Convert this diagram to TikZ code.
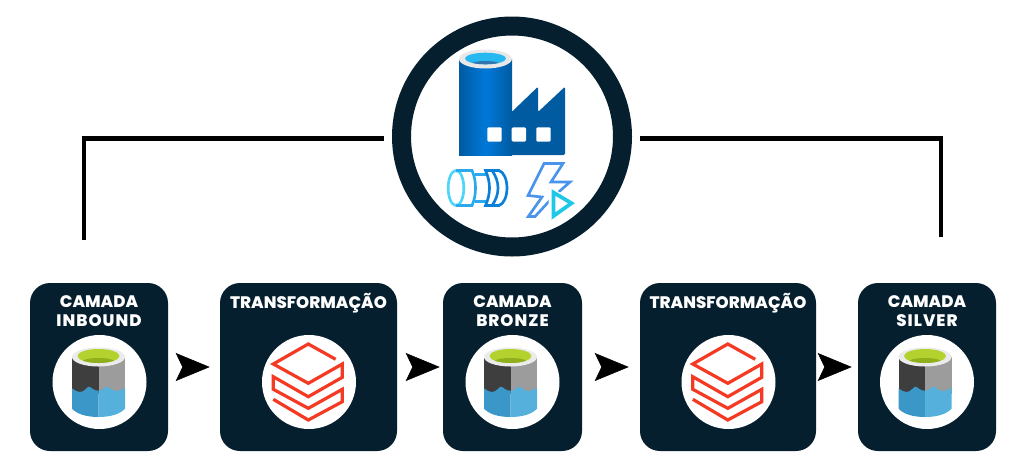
\documentclass[tikz,border=0pt]{standalone}
\usepackage{fontspec}
\usepackage{tikz}
\usetikzlibrary{arrows.meta}
\newfontfamily\labelfont{Poppins}[BoldFont={Poppins ExtraBold}]
\definecolor{darknavy}{HTML}{051F2E}
\definecolor{lakegreen}{HTML}{B4D22E}
\definecolor{lakegreendark}{HTML}{8FB01C}
\definecolor{lakegrey}{HTML}{9C9C9C}
\definecolor{lakedark}{HTML}{3E3E3E}
\definecolor{lakeblue}{HTML}{3B97C8}
\definecolor{lakelight}{HTML}{55B0DC}
\definecolor{brickred}{HTML}{F53A24}
\definecolor{factoryblue}{HTML}{005BA1}
\definecolor{pipelight}{HTML}{50D4FA}
\definecolor{pipemid}{HTML}{2CA8EC}
\definecolor{pipedark}{HTML}{0A80D8}
\definecolor{boltblue}{HTML}{4A94EC}
\definecolor{playcyan}{HTML}{20C8E8}
\tikzset{
  layerbox/.style={fill=darknavy,rounded corners=15pt,inner sep=0pt,minimum height=126pt},
  logo/.style={circle,fill=white,inner sep=0pt,minimum size=70.5pt},
  layerlabel/.style={text=white,align=center,inner sep=0pt,font=\labelfont\bfseries\fontsize{12.5}{14.25}\selectfont},
  busline/.style={black,line width=3.6pt},
  flow/.style={black,line width=0.4pt,-{Stealth[length=25.5pt,width=21pt,inset=5pt]}},
  pipeline/.style={line width=2pt},
}
\newcommand{\wideline}[1]{{\addfontfeature{LetterSpace=6}#1}}
\newcommand{\drawlake}[1]{
  \begin{scope}[shift={#1}]
  \fill[lakedark] (-26.5,-25) rectangle (0,12);
  \fill[lakegrey] (0,-25) rectangle (26.5,12);
  \fill[lakeblue] (-26.5,6.3) .. controls (-24,8.5) and (-21,10) .. (-18.5,10) .. controls (-14,10) and (-12,5) .. (-9.5,4.7) .. controls (-7,5) and (-5,9) .. (0,8.7) -- (0,35) .. controls (-12,35) and (-22,32) .. (-26.5,26.5) -- cycle;
  \fill[lakelight] (0,8.7) .. controls (3,9.5) and (6,5) .. (8.8,4.7) .. controls (11,5) and (13,9) .. (18,9) .. controls (22,9) and (24,7) .. (26.5,5.7) -- (26.5,26.5) .. controls (22,32) and (12,35) .. (0,35) -- cycle;
  \fill[white!92!black] (0,-25) ellipse [x radius=26.5,y radius=9.5];
  \fill[lakegreen] (0,-26) ellipse [x radius=21,y radius=7];
  \begin{scope}
  \clip (0,-26) ellipse [x radius=21,y radius=7];
  \fill[lakegreendark] (0,-20) ellipse [x radius=17,y radius=4];
  \end{scope}
  \end{scope}
}
\newcommand{\drawbricks}[1]{
  \begin{scope}[shift={#1}]
  \draw[brickred,line width=2.4pt,miter limit=4]
    (26.7,-22.7) -- (-0.7,-38) -- (-35.7,-18) -- (-0.7,1.3) -- (33.3,-18) -- (33.3,-4.7)
    -- (-0.7,14.7) -- (-35.7,-5.3) -- (-35.7,7.3) -- (-0.7,26.3) -- (33.3,7.3) -- (33.3,19.7)
    -- (-0.7,38) -- (-35.7,17.3);
  \end{scope}
}
\begin{document}
\begin{tikzpicture}[x=0.75pt,y=-0.75pt]
      \useasboundingbox (0,0) rectangle (1024,472);

      % layers
      \node (inbound) [layerbox,minimum width=103.5pt] at (99,367) {};
      \node (transfA) [layerbox,minimum width=132.75pt] at (308.5,367) {};
      \node (bronze) [layerbox,minimum width=104.25pt] at (512.5,367) {};
      \node (transfB) [layerbox,minimum width=132pt] at (728,367) {};
      \node (silver) [layerbox,minimum width=103.5pt] at (927,367) {};

      \node (inboundtext) [layerlabel] at (99,311) {CAMADA\\\wideline{INBOUND}};
      \node (transfAtext) [layerlabel,anchor=base] at (308.5,308) {TRANSFORMAÇÃO};
      \node (bronzetext) [layerlabel] at (512.5,311) {CAMADA\\\wideline{BRONZE}};
      \node (transfBtext) [layerlabel,anchor=base] at (728,308) {TRANSFORMAÇÃO};
      \node (silvertext) [layerlabel] at (927,311) {CAMADA\\\wideline{SILVER}};

      \node (inboundlogo) [logo] at (99.5,382) {};
      \node (transfAlogo) [logo] at (309,382) {};
      \node (bronzelogo) [logo] at (512.5,382) {};
      \node (transfBlogo) [logo] at (728.5,382) {};
      \node (silverlogo) [logo] at (927,382) {};

      \drawlake{(98.5,382)}
      \drawbricks{(309,382)}
      \drawlake{(510.5,382)}
      \drawbricks{(728.5,382)}
      \drawlake{(925,382)}

      % arrows between the layers
      \foreach \a/\b/\s/\e in {inbound/transfA/14/7.5,transfA/bronze/14.75/2.25,bronze/transfB/17.75/8.25,transfB/silver/9.5/4.5}
        \draw[flow,shorten <=\s pt,shorten >=\e pt] (\a.east) -- (\b.west);

      % factory
      \node (factory) [circle,draw=darknavy,line width=14.25pt,inner sep=0pt,minimum size=165.75pt] at (512,136.5) {};
      \coordinate (inboundup) at (84,240);
      \coordinate (silverup) at (941,237);
      \draw[busline,shorten >=6pt] (inboundup) |- ([yshift=-1.5pt]factory.west);
      \draw[busline,shorten >=6pt] (silverup) |- ([yshift=-1.5pt]factory.east);

      \fill[factoryblue,rounded corners=1pt] (500,155) -- (565,155) -- (565,86.7) -- (538,112) -- (538,86.7) -- (511.7,112) -- (500,112) -- cycle;
      \shade[left color=factoryblue,right color=factoryblue,middle color=blue!45!cyan!60!factoryblue] (459,59) rectangle (512,155);
      \fill[white!91!black] (485.4,59) ellipse [x radius=26.5,y radius=9.5];
      \fill[cyan!85!white] (485.5,58.5) ellipse [x radius=20.5,y radius=5.8];
      \begin{scope}
      \clip (485.5,58.5) ellipse [x radius=20.5,y radius=5.8];
      \fill[cyan!60!blue!80!black] (485.5,65) ellipse [x radius=16,y radius=4];
      \end{scope}
      \foreach \x in {487.3,511.7,536.3}
        \fill[white,rounded corners=1pt] (\x,127.3) rectangle ++(14.4,14.4);

      % pipe
      \draw[pipelight,pipeline] (456,188) ellipse [x radius=7.8,y radius=17.5];
      \draw[pipemid,pipeline] (456,170.5) -- (472,170.5) .. controls (474.5,176) and (475.5,182) .. (475.5,188) .. controls (475.5,194) and (474.5,200) .. (472,205.5) -- (456,205.5);
      \draw[pipemid,pipeline] (475,174.5) -- (487,174.5) (475,201.5) -- (487,201.5);
      \draw[pipedark,pipeline] (485.5,170.5) -- (499,170.5) .. controls (504,172) and (507,180) .. (507,188) .. controls (507,196) and (504,204) .. (499,205.5) -- (485.5,205.5) .. controls (488,200) and (489.5,194) .. (489.5,188) .. controls (489.5,182) and (488,176) .. (485.5,170.5) -- cycle;
      \draw[pipedark,pipeline] (492,170.5) .. controls (496,176) and (498,182) .. (498,188) .. controls (498,194) and (496,200) .. (492,205.5);

      % bolt
      \draw[boltblue,line width=2pt,line join=miter] (544,163.5) -- (563,163.5) -- (551,182) -- (570,182) -- (553,197) -- (535,216.5) -- (528.3,216.5) -- (542,197) -- (528,195.5) -- cycle;
      \fill[white] (548.5,186) -- (578,203) -- (548.5,222) -- cycle;
      \draw[playcyan,line width=2.8pt,line join=miter] (553.5,192.5) -- (571.5,203.2) -- (553.5,216) -- cycle;
\end{tikzpicture}
\end{document}
